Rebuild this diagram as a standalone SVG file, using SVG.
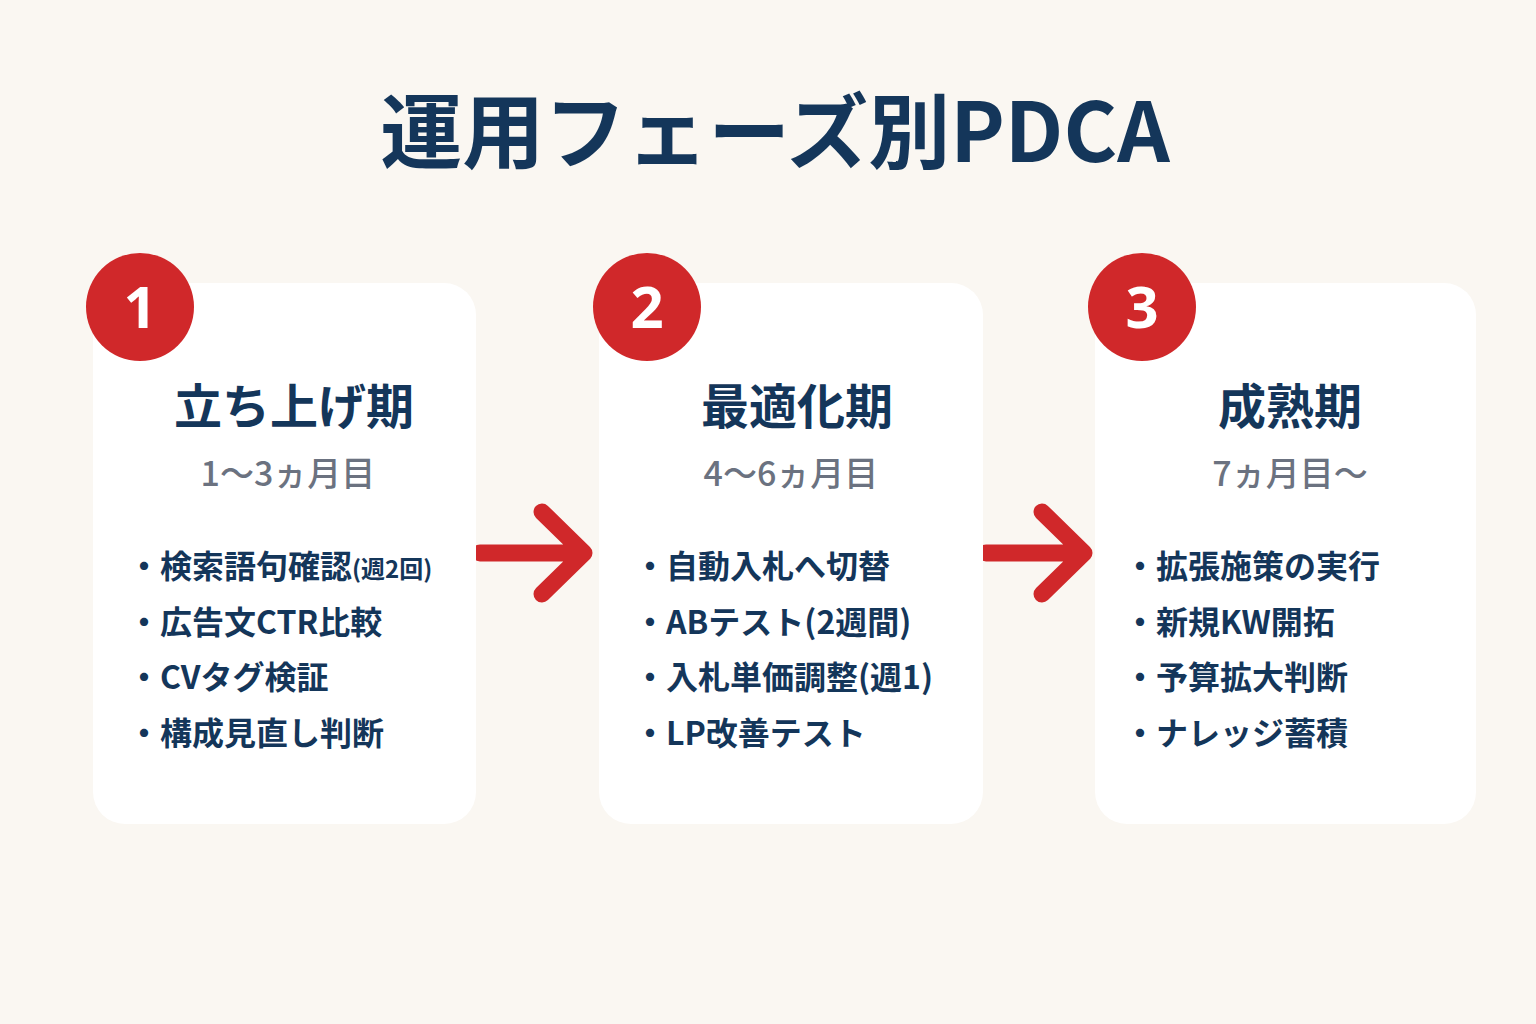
<svg xmlns="http://www.w3.org/2000/svg" width="1536" height="1024" viewBox="0 0 1536 1024">
<style>
text{font-family:"Noto Sans CJK JP","Noto Sans",sans-serif;font-weight:700;fill:#14365a}
.card{fill:#fff}
.num{fill:#fff;font-family:"Noto Sans","Noto Sans CJK JP",sans-serif;font-size:58px;text-anchor:middle}
.h{font-size:48px;text-anchor:middle}
.sub{font-size:34px;text-anchor:middle;fill:#6b7280;font-weight:500}
.b{font-size:32px}
.arr{stroke:#d0282a;stroke-width:17;fill:none;stroke-linecap:round;stroke-linejoin:round}
</style>
<rect width="1536" height="1024" fill="#faf7f2"/>
<text x="775" y="162" font-size="82" text-anchor="middle">運用フェーズ別PDCA</text>
<g id="connectors">
<path class="arr" d="M480 553H582M542 512L584 553L542 594"/>
<path class="arr" d="M986 553H1082M1042 512L1084 553L1042 594"/>
</g>
<g id="phase1">
<rect class="card" x="93" y="283" width="383" height="541" rx="32"/>
<circle cx="140" cy="307" r="54" fill="#d0282a"/>
<text class="num" x="140" y="328">1</text>
<text class="h" x="294" y="424">立ち上げ期</text>
<text class="sub" x="288" y="486">1〜3ヵ月目</text>
<text class="b" x="128" y="578">・検索語句確認<tspan font-size="24">(週2回)</tspan></text>
<text class="b" x="128" y="634">・広告文CTR比較</text>
<text class="b" x="128" y="689">・CVタグ検証</text>
<text class="b" x="128" y="745">・構成見直し判断</text>
</g>
<g id="phase2">
<rect class="card" x="599" y="283" width="384" height="541" rx="32"/>
<circle cx="647" cy="307" r="54" fill="#d0282a"/>
<text class="num" x="647" y="328">2</text>
<text class="h" x="797" y="424">最適化期</text>
<text class="sub" x="791" y="486">4〜6ヵ月目</text>
<text class="b" x="634" y="578">・自動入札へ切替</text>
<text class="b" x="634" y="634">・ABテスト(2週間)</text>
<text class="b" x="634" y="689">・入札単価調整(週1)</text>
<text class="b" x="634" y="745">・LP改善テスト</text>
</g>
<g id="phase3">
<rect class="card" x="1095" y="283" width="381" height="541" rx="32"/>
<circle cx="1142" cy="307" r="54" fill="#d0282a"/>
<text class="num" x="1142" y="328">3</text>
<text class="h" x="1290" y="424">成熟期</text>
<text class="sub" x="1290" y="486">7ヵ月目〜</text>
<text class="b" x="1124" y="578">・拡張施策の実行</text>
<text class="b" x="1124" y="634">・新規KW開拓</text>
<text class="b" x="1124" y="689">・予算拡大判断</text>
<text class="b" x="1124" y="745">・ナレッジ蓄積</text>
</g>
</svg>
